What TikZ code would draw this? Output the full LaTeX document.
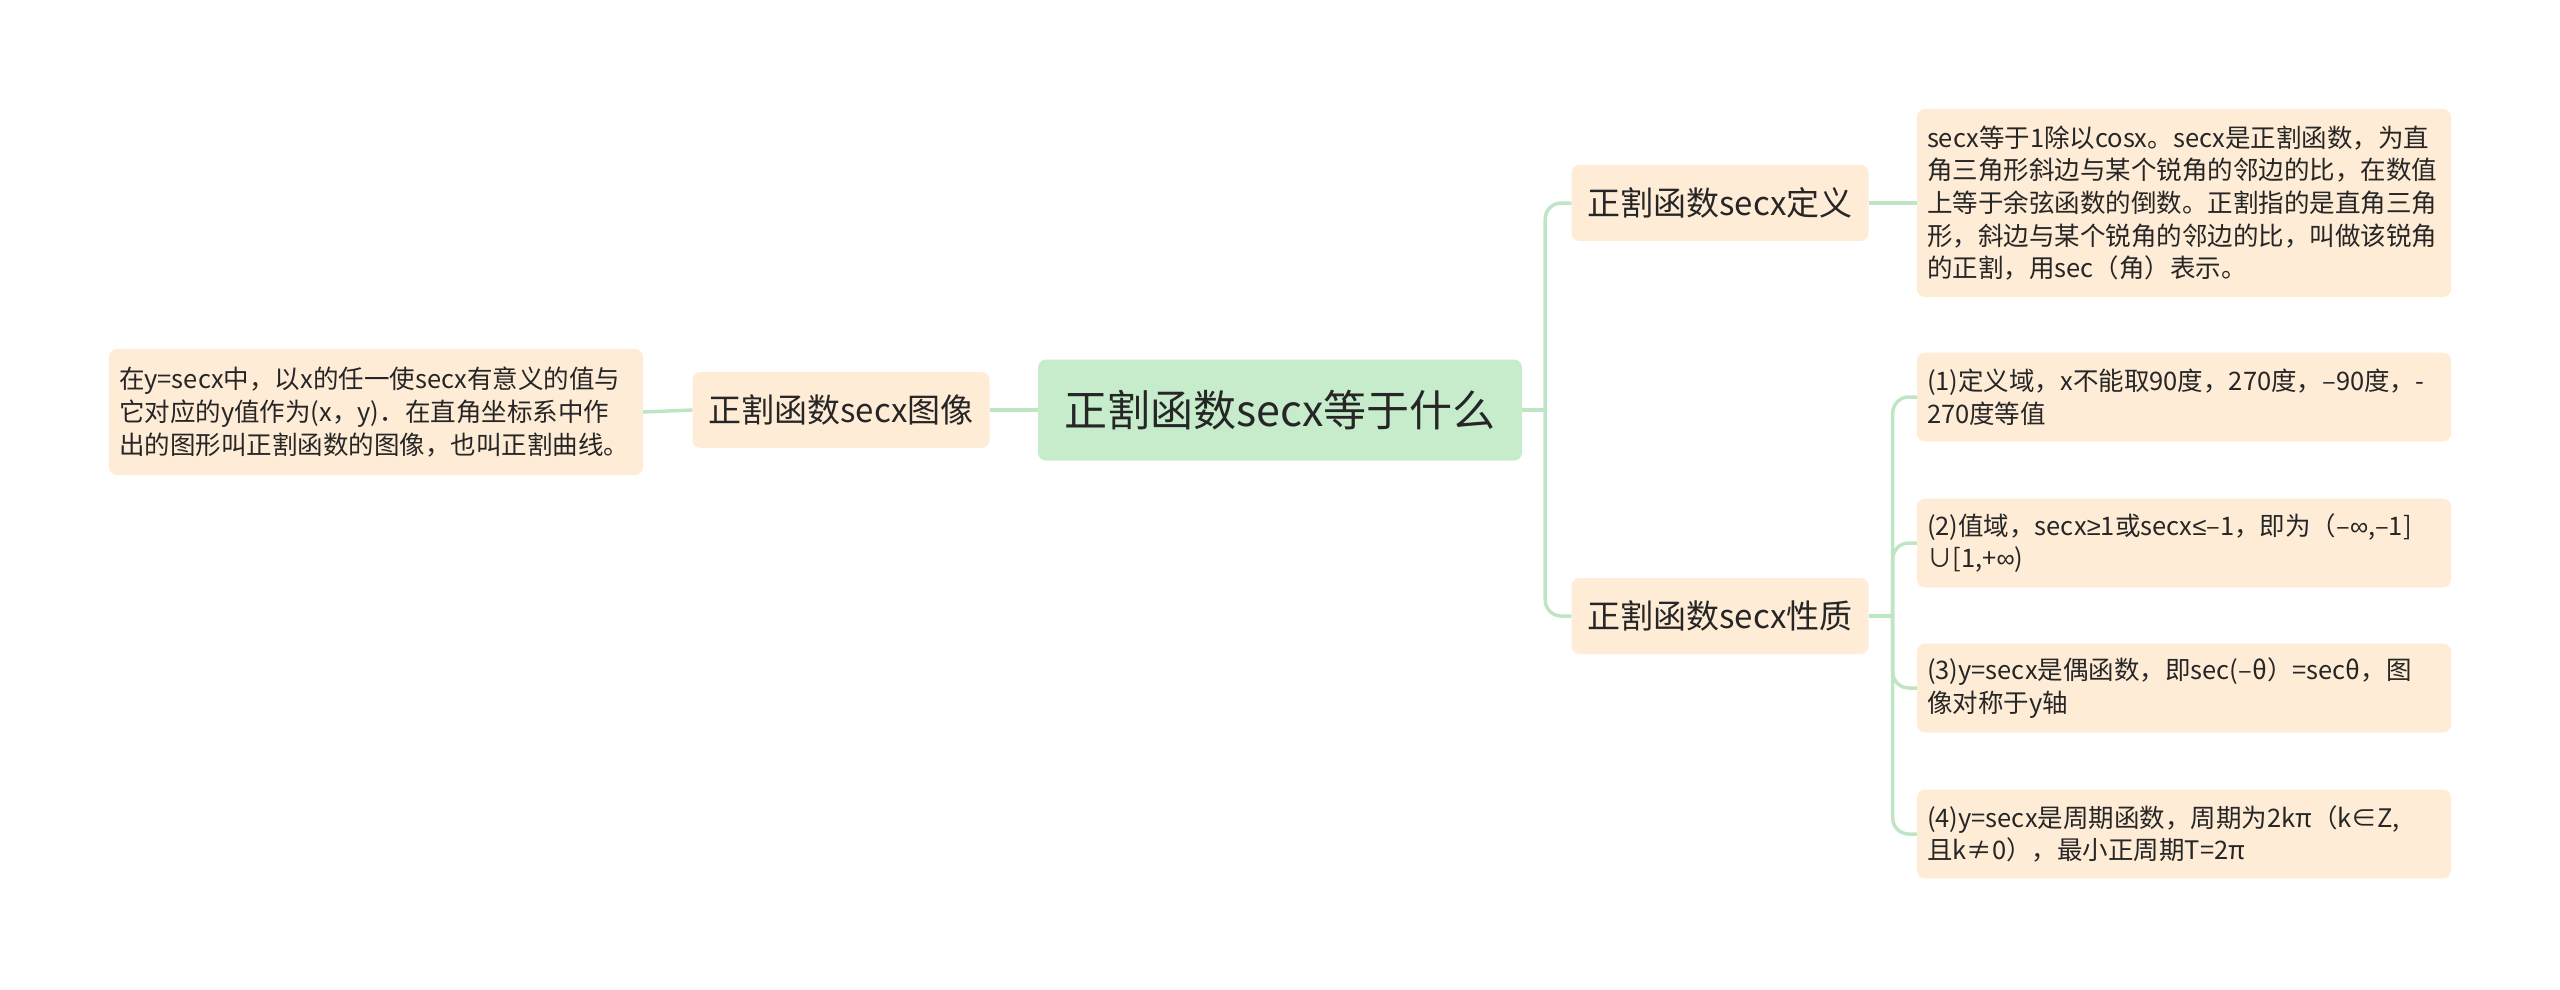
\documentclass[tikz,border=0pt]{standalone}
\usepackage{fontspec}
\setmainfont{Noto Sans CJK SC}
\newfontfamily\symfont{Liberation Sans}
\usetikzlibrary{calc}
\definecolor{RootGreen}{RGB}{198,236,204}
\definecolor{LinkGreen}{RGB}{190,230,197}
\definecolor{Peach}{RGB}{254,236,214}
\definecolor{InkGray}{RGB}{38,38,38}

\begin{document}
\begin{tikzpicture}[x=1pt,y=-1pt,
  topic/.style={fill=RootGreen,rounded corners=8pt,minimum width=484pt,minimum height=101pt,
    text=InkGray,font=\fontsize{43}{50}\selectfont},
  branch/.style={fill=Peach,rounded corners=8pt,minimum width=297pt,minimum height=76pt,
    text=InkGray,font=\fontsize{33}{40}\selectfont},
  leaf/.style={fill=Peach,rounded corners=8pt,text width=514pt,inner xsep=10pt,align=left,
    text=InkGray,font=\fontsize{25.5}{32.6}\selectfont},
  link/.style={LinkGreen,line width=3.5pt,rounded corners=16pt}]
  \useasboundingbox (0,0) rectangle (2560,990);
  \node[topic] (root) at (1280,410) {正割函数secx等于什么};
  \node[branch] (image) at (841,410) {正割函数secx图像};
  \node[branch] (def) at (1720,203) {正割函数secx定义};
  \node[branch] (prop) at (1720,616) {正割函数secx性质};
  \node[leaf,minimum height=126pt] (imagetext) at (376,412)
    {在y=secx中，以x的任一使secx有意义的值与\\它对应的y值作为(x，y)．在直角坐标系中作\\出的图形叫正割函数的图像，也叫正割曲线。};
  \node[leaf,minimum height=188pt] (deftext) at (2184,203)
    {secx等于1除以cosx。secx是正割函数，为直\\角三角形斜边与某个锐角的邻边的比，在数值\\上等于余弦函数的倒数。正割指的是直角三角\\形，斜边与某个锐角的邻边的比，叫做该锐角\\的正割，用sec（角）表示。};
  \node[leaf,minimum height=89pt] (p1) at (2184,397)
    {(1)定义域，x不能取90度，270度，–90度，-\\270度等值};
  \node[leaf,minimum height=89pt] (p2) at (2184,543)
    {\mbox{(2)值域，secx{\symfont ≥}1或secx{\symfont ≤}–1，即为（–{\symfont ∞},–1]}\\∪[1,+{\symfont ∞})};
  \node[leaf,minimum height=89pt] (p3) at (2184,688)
    {(3)y=secx是偶函数，即sec(–θ）=secθ，图\\像对称于y轴};
  \node[leaf,minimum height=89pt] (p4) at (2184,834)
    {(4)y=secx是周期函数，周期为2kπ（k∈Z,\\且k≠0），最小正周期T=2π};

  \coordinate (rootfork) at ($(root.east)+(23,0)$);
  \coordinate (propfork) at ($(prop.east)+(24,0)$);
  \draw[link] (root.west) -- (image.east);
  \draw[link] (image.west) -- (imagetext.east);
  \draw[link] (root.east) -- (rootfork);
  \foreach \k in {def,prop}{\draw[link] (rootfork) |- (\k.west);}
  \draw[link] (def.east) -- (deftext.west);
  \draw[link] (prop.east) -- (propfork);
  \foreach \k in {p1,p2,p3,p4}{\draw[link] (propfork) |- (\k.west);}
\end{tikzpicture}
\end{document}
